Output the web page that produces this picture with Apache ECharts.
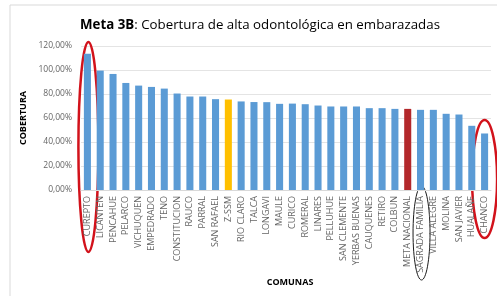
<!DOCTYPE html>
<html>
<head>
<meta charset="utf-8">
<script src="https://cdn.jsdelivr.net/npm/echarts@6/dist/echarts.min.js"></script>
<style>
  html, body { margin: 0; padding: 0; background: #fff; }
  #chart { width: 497px; height: 296px; }
</style>
</head>
<body>
<div id="chart"></div>
<script>
const comunas = ['CUREPTO', 'LICANTEN', 'PENCAHUE', 'PELARCO', 'VICHUQUEN', 'EMPEDRADO', 'TENO',
  'CONSTITUCION', 'RAUCO', 'PARRAL', 'SAN RAFAEL', 'Z-SSM', 'RIO CLARO', 'TALCA', 'LONGAVI',
  'MAULE', 'CURICO', 'ROMERAL', 'LINARES', 'PELLUHUE', 'SAN CLEMENTE', 'YERBAS BUENAS',
  'CAUQUENES', 'RETIRO', 'COLBUN', 'META NACIONAL', 'SAGRADA FAMILIA', 'VILLA ALEGRE',
  'MOLINA', 'SAN JAVIER', 'HUALAÑE', 'CHANCO'];
const cobertura = [113.6, 99.5, 96.7, 89.2, 87.0, 85.9, 84.5, 80.4, 77.9, 77.9, 75.7, 75.4,
  73.8, 73.3, 73.2, 71.8, 72.0, 71.5, 70.4, 69.6, 69.6, 69.6, 68.2, 68.2, 67.6, 67.6, 66.8,
  66.8, 63.5, 62.9, 53.5, 47.1];
const yTicks = [0, 20, 40, 60, 80, 100, 120];

const colorFor = (name) => {
  if (name === 'Z-SSM') return '#FFC000';
  if (name === 'META NACIONAL') return '#B3282B';
  return '#5B9BD5';
};

const myChart = echarts.init(document.getElementById('chart'));

const option = {
  animation: false,
  title: {
    text: '{b|Meta 3B}: Cobertura de alta odontológica en embarazadas',
    left: 255,
    top: 14,
    textAlign: 'center',
    textStyle: {
      fontFamily: 'Open Sans',
      fontSize: 13.3,
      fontWeight: 'normal',
      color: '#000',
      rich: {
        b: { fontFamily: 'Open Sans', fontSize: 13.3, fontWeight: 'bold', color: '#000' },
      },
    },
  },
  grid: {
    left: 81,
    right: 6,
    top: 46,
    bottom: 106,
  },
  xAxis: {
    type: 'category',
    data: comunas,
    name: 'COMUNAS',
    nameLocation: 'middle',
    nameGap: 88,
    nameTextStyle: {
      fontFamily: 'Open Sans',
      fontSize: 9,
      fontWeight: 'bold',
      color: '#000',
      padding: [0, 0, 0, 8],
    },
    axisLine: { show: true, lineStyle: { color: '#D9D9D9' } },
    axisTick: { show: false },
    axisLabel: {
      interval: 0,
      rotate: 90,
      fontFamily: 'Open Sans',
      fontSize: 9,
      color: '#666666',
      margin: 6,
    },
  },
  yAxis: {
    type: 'value',
    min: 0,
    max: 120,
    interval: 20,
    name: 'COBERTURA',
    nameLocation: 'middle',
    nameGap: 49,
    nameTextStyle: {
      fontFamily: 'Open Sans',
      fontSize: 9,
      fontWeight: 'bold',
      color: '#000',
    },
    axisLine: { show: false },
    axisTick: { show: false },
    axisLabel: {
      fontFamily: 'Open Sans',
      fontSize: 8.5,
      color: '#666666',
      margin: 9,
      formatter: (v) => yTicks.includes(v) ? v.toFixed(2).replace('.', ',') + '%' : '',
    },
    splitLine: { lineStyle: { color: '#E4E4E4' } },
  },
  series: [{
    type: 'bar',
    barWidth: '55%',
    data: comunas.map((name, i) => ({
      value: cobertura[i],
      itemStyle: { color: colorFor(name) },
    })),
  }],
};

myChart.setOption(option);

// annotation ellipses, placed from the axes
const px = (name, v) => myChart.convertToPixel({ seriesIndex: 0 }, [name, v]);
const first = px('CUREPTO', 120);
const last = px('CHANCO', 70);
const sagrada = px('SAGRADA FAMILIA', 0);

myChart.setOption({
  graphic: [
    {
      type: 'rect',
      shape: { x: 10, y: 5, width: 500, height: 300 },
      style: { fill: 'none', stroke: '#D9D9D9', lineWidth: 1 },
      silent: true,
    },
    {
      type: 'ellipse',
      shape: { cx: first[0] + 1, cy: 147, rx: 10, ry: 105 },
      style: { fill: 'none', stroke: '#D2121B', lineWidth: 2.5 },
      silent: true,
    },
    {
      type: 'ellipse',
      shape: { cx: last[0], cy: 179, rx: 12.5, ry: 59 },
      style: { fill: 'none', stroke: '#D2121B', lineWidth: 2.5 },
      silent: true,
    },
    {
      type: 'ellipse',
      shape: { cx: sagrada[0] + 1, cy: 233, rx: 8.5, ry: 47 },
      style: { fill: 'none', stroke: '#1A1A1A', lineWidth: 1 },
      silent: true,
    },
  ],
});
</script>
</body>
</html>
